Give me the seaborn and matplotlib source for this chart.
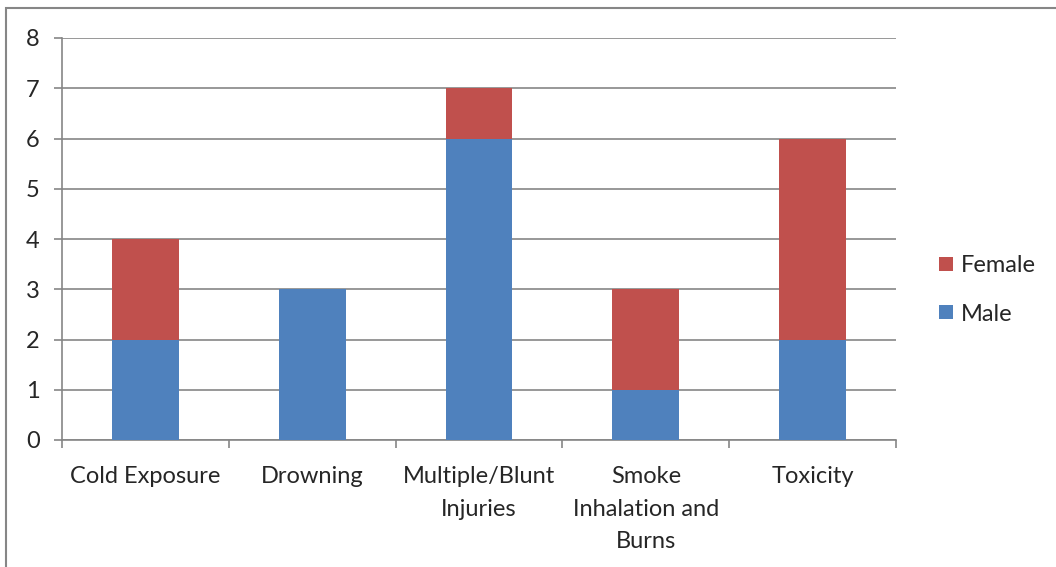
import matplotlib
matplotlib.use("Agg")
import matplotlib.pyplot as plt
import seaborn as sns
import pandas as pd
from matplotlib.patches import Rectangle
from matplotlib.lines import Line2D

categories = ["Cold Exposure", "Drowning", "Multiple/Blunt\nInjuries",
              "Smoke\nInhalation and\nBurns", "Toxicity"]
male = [2, 3, 6, 1, 2]
female = [2, 0, 1, 2, 4]
yticks = [0, 1, 2, 3, 4, 5, 6, 7, 8]

MALE_COLOR = "#4F81BD"
FEMALE_COLOR = "#C0504D"
GRID = "#868686"
FS = 17

sns.set_theme(style="white")
plt.rcParams["font.family"] = ["Lato", "DejaVu Sans"]

df = pd.DataFrame({"category": categories, "Male": male, "Female": female})

fig = plt.figure(figsize=(10.56, 5.67), dpi=100)
ax = fig.add_axes([62 / 1056, 1 - 440 / 567, 834 / 1056, 402 / 567])

sns.barplot(data=df, x="category", y="Male", color=MALE_COLOR, width=0.4,
            saturation=1, ax=ax, linewidth=0, zorder=3)
sns.barplot(data=df, x="category", y="Female", color=FEMALE_COLOR, width=0.4,
            saturation=1, ax=ax, linewidth=0, bottom=df["Male"], zorder=3)

ax.set_xlim(-0.5, len(categories) - 0.5)
ax.set_ylim(0, 8)
ax.set_yticks(yticks)
ax.set_yticklabels([str(v) for v in yticks], fontsize=FS)
ax.set_xlabel("")
ax.set_ylabel("")

# category labels centred on bars, tick marks on category boundaries
ax.set_xticks(range(len(categories)))
ax.set_xticklabels(categories, fontsize=FS, linespacing=1.66, va="top")
ax.tick_params(axis="x", length=0, pad=19)
ax.set_xticks([i - 0.5 for i in range(len(categories) + 1)], minor=True)
ax.tick_params(axis="x", which="minor", length=6, width=1.2, color=GRID,
               direction="out", bottom=True)
ax.tick_params(axis="y", length=6, width=1.2, color=GRID, direction="out",
               left=True, pad=10)

ax.grid(axis="y", color=GRID, linewidth=1.2, zorder=0)
ax.set_axisbelow(True)
for side in ["top", "right"]:
    ax.spines[side].set_visible(False)
for side in ["left", "bottom"]:
    ax.spines[side].set_color(GRID)
    ax.spines[side].set_linewidth(1.2)

handles = [Line2D([], [], marker="s", linestyle="", markersize=10,
                  markerfacecolor=FEMALE_COLOR, markeredgewidth=0),
           Line2D([], [], marker="s", linestyle="", markersize=10,
                  markerfacecolor=MALE_COLOR, markeredgewidth=0)]
fig.legend(handles, ["Female", "Male"], loc="center left",
           bbox_to_anchor=(912 / 1056, 1 - 290 / 567), frameon=False,
           fontsize=FS, handletextpad=0.05, labelspacing=1.15,
           handlelength=1.1)

# chart-area frame
fig.patches.append(Rectangle((6 / 1056, -0.05), 1.2, 1 - 8 / 567 + 0.05,
                             transform=fig.transFigure, fill=False,
                             edgecolor=GRID, linewidth=1.5))

fig.savefig("out.png", dpi=100)
